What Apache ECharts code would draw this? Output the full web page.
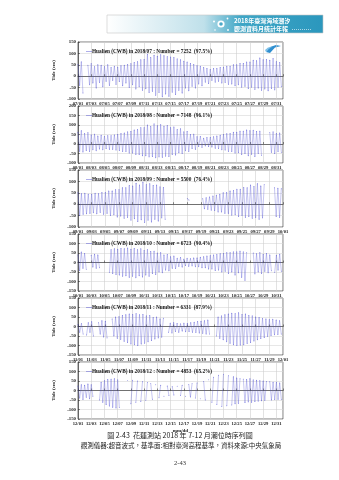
<!DOCTYPE html>
<html><head><meta charset="utf-8">
<script src="https://cdn.jsdelivr.net/npm/echarts@6/dist/echarts.min.js"></script>
<style>html,body{margin:0;padding:0;background:#fff}#c{width:339px;height:480px}</style>
</head><body><div id="c"></div>
<script>
// ---- data (6-hourly readings of high / low water, cm) ----
const monthIndex = [6, 7, 8, 9, 10, 11];           // JS month index (Jul..Dec)
const monthLabels = ['2018/07','2018/08','2018/09','2018/10','2018/11','2018/12'];
const counts = [7252, 7148, 5500, 6723, 6331, 4853];
const percents = ['97.5%','96.1%','76.4%','90.4%','87.9%','65.2%'];
const monthDays = [31, 31, 30, 31, 30, 31];
const yMins = [-100, -100, -100, -150, -150, -150];
const yMaxs = [150, 200, 150, 150, 150, 150];
const samplesPerDay = 4;

const tideJul = [
 52,-40,63,-74, null,null,48,-38, 55,-30,42,-52, 50,-28,48,-46, 42,-22,50,-40,
 38,-18,44,-36, 40,-24,46,-42, 48,-30,52,-50, 55,-38,60,-56, 64,-46,72,-62,
 74,-55,96,-72, 82,-66,92,-84, 88,-72,94,-90, 90,-78,86,-88, 84,-70,82,-80,
 76,-62,72,-74, 66,-52,62,-64, 56,-44,52,-52, 46,-34,44,-42, 38,-26,34,-32,
 30,-18,34,-26, 34,-22,38,-30, 40,-28,44,-36, 44,-34,50,-42, 50,-38,56,-48,
 56,-44,62,-54, 62,-48,70,-58, 68,-52,80,-62, 72,-56,74,-64, 70,-54,78,-60,
 64,-48,60,-46
];
const tideAug = [
 62,-38,70,-42, 55,-35,60,-40, 48,-30,52,-36, 42,-26,46,-30, 40,-24,44,-28,
 44,-28,48,-32, 50,-34,56,-40, 58,-40,64,-48, 66,-48,74,-56, 76,-56,86,-62,
 86,-62,100,-68, 92,-66,106,-72, 96,-68,102,-70, 94,-64,98,-66, 86,-56,90,-58,
 76,-46,80,-50, 64,-36,66,-40, 50,-24,52,-28, 38,-14,40,-18, 30,-10,34,-14,
 34,-16,38,-22, 42,-24,46,-30, 50,-32,54,-40, 56,-40,62,-48, 62,-46,68,-56,
 68,-50,74,-62, 70,-54,72,-66, 66,-50,68,-60, null,null,null,null, 60,-44,64,-50,
 56,-40,58,-44
];
const tideSep = [
 50,-50,46,-44, 48,-42,44,-40, 44,-38,48,-42, 46,-36,52,-44, 52,-40,58,-50,
 58,-46,64,-56, 64,-52,72,-62, 72,-58,82,-70, 80,-64,92,-76, 84,-68,96,-80,
 86,-70,90,-78, 82,-66,84,-74, 76,-60,74,-66, null,null,null,null, null,null,null,null,
 null,null,null,null, 24,18,null,null, null,null,null,null, null,24,-20,28, -22,32,-26,36,
 -28,40,-34,44, -34,50,-40,52, -40,58,-48,60, -46,66,-54,66, -50,74,-58,72,
 -54,84,-62,78, -58,90,-66,80, -60,86,null,null, null,null,null,72, -54,70,-58,68
];
const tideOct = [
 40,-42,55,-30, 48,-36,null,null, 38,-24,44,-30, 40,-28,null,null, null,null,null,-52,
 68,-58,72,-64, 70,-66,74,-72, 72,-70,76,-78, 70,-72,74,-80, 68,-70,72,-76,
 64,-66,68,-72, 58,-58,60,-64, 50,-50,52,-54, 40,-40,42,-44, 30,-30,34,-32,
 22,-20,26,-24, 18,-16,22,-20, 20,-18,24,-22, 24,-22,28,-28, 30,-28,34,-34,
 36,-34,40,-42, 42,-40,46,-50, 48,-46,52,-58, 52,-50,56,-66, 56,-54,60,-78,
 56,-94,52,null, null,null,50,-60, 46,-50,52,-58, 42,-46,48,-54, 40,-44,null,-52,
 38,-40,44,-46
];
const tideNov = [
 10,-30,15,-40, null,-45,20,-30, 25,-50,null,null, 20,-40,30,-55, 28,-60,null,null,
 40,-50,50,-62, 52,-68,58,-78, 62,-84,66,-92, 64,-96,68,-100, 62,-92,64,-88,
 56,-80,58,-74, 48,-66,50,-60, 40,-56,44,null, null,-30,18,-34, 20,-26,16,-30,
 14,-24,18,-28, 16,-26,20,-30, 22,-32,26,-34, 28,-36,30,-40, 34,-40,null,null,
 null,-50,50,-62, 56,-70,62,-80, 66,-88,70,-96, 68,-100,72,-98, 64,-96,66,-90,
 58,-84,56,-76, 50,-70,48,-64, 42,-58,40,-52, 36,-48,38,-44, 34,-42,30,-40
];
const tideDec = [
 24,-40,30,-48, 28,-36,34,-44, 30,-30,null,null, null,-50,44,-62, 52,-74,58,-82,
 60,-88,62,-92, 56,-90,null,null, null,null,52,null, -70,54,null,-62, 50,null,-58,46,
 null,-52,42,null, 36,-46,null,30, null,-38,28,null, -30,null,24,-26, null,20,-24,null,
 22,null,-26,28, null,-30,null,32, -34,36,null,-40, 40,null,-44,null, 48,-50,null,56,
 null,-62,70,null, -74,80,null,-84, 86,null,-80,78, null,-76,72,-70, 66,-68,62,null,
 60,-64,58,-60, 62,-62,56,-58, 54,-56,52,-54, 50,-52,48,null, 46,-50,44,-48,
 42,-46,40,-48
];
const tideSeries = [tideJul, tideAug, tideSep, tideOct, tideNov, tideDec];

// ---- layout ----
const GRID_TOP0 = 42, GRID_STEP = 64, GRID_H = 57, GRID_L = 78, GRID_R = 56;
const LINE_COLOR = '#4a4ad2';
const SERIF = '"Liberation Serif","DejaVu Serif",serif';
const CJK = '"Noto Sans CJK TC","Noto Sans CJK SC",sans-serif';

function pad(n){ return (n < 10 ? '0' : '') + n; }

const grids = [], xAxes = [], yAxes = [], series = [], titles = [];
for (let i = 0; i < 6; i++) {
  const top = GRID_TOP0 + GRID_STEP * i;
  grids.push({ left: GRID_L, right: GRID_R, top: top, height: GRID_H,
    show: true, borderColor: '#222', borderWidth: 0.6, backgroundColor: '#fff' });
  const m = monthIndex[i];
  xAxes.push({
    type: 'value', gridIndex: i, min: 0, max: monthDays[i], interval: 2,
    axisLine: { show: true, lineStyle: { color: '#222', width: 0.6 } },
    axisTick: { show: true, inside: true, length: 2, lineStyle: { color: '#222', width: 0.5 } },
    splitLine: { show: true, lineStyle: { color: '#cfcfcf', width: 0.6 } },
    axisLabel: {
      show: true, margin: 2, fontSize: 4.6, color: '#222', fontFamily: SERIF, fontWeight: 'bold',
      hideOverlap: false,
      formatter: function (v) {
        if (Math.abs(v % 2) > 1e-6) return '';
        const d = new Date(Date.UTC(2018, m, 1) + v * 86400000);
        return pad(d.getUTCMonth() + 1) + '/' + pad(d.getUTCDate());
      }
    },
    name: i === 5 ? 'mm/dd' : '', nameLocation: 'middle', nameGap: 9,
    nameTextStyle: { fontSize: 5, fontFamily: SERIF, fontWeight: 'bold', color: '#222' }
  });
  yAxes.push({
    type: 'value', gridIndex: i, min: yMins[i], max: yMaxs[i], interval: 50,
    axisLine: { show: true, lineStyle: { color: '#222', width: 0.6 } },
    axisTick: { show: true, inside: true, length: 2, lineStyle: { color: '#222', width: 0.5 } },
    splitLine: { show: true, lineStyle: { color: '#d6d6d6', width: 0.6 } },
    axisLabel: { show: true, margin: 2, fontSize: 4.8, color: '#222', fontFamily: SERIF, fontWeight: 'bold' },
    name: 'Tide (cm)', nameLocation: 'middle', nameGap: 12,
    nameTextStyle: { fontSize: 5, fontFamily: SERIF, fontWeight: 'bold', color: '#222' }
  });
  const arr = tideSeries[i];
  series.push({
    type: 'line', xAxisIndex: i, yAxisIndex: i, name: 'Hualien ' + monthLabels[i],
    data: arr.map(function (v, k) { return [k / samplesPerDay, v]; }),
    connectNulls: false, showSymbol: true, symbol: 'circle', symbolSize: 0.9,
    itemStyle: { color: LINE_COLOR, opacity: 0.9 },
    lineStyle: { color: LINE_COLOR, width: 0.35, opacity: 0.9 },
    animation: false, silent: true
  });
  titles.push({
    left: GRID_L + 3, top: top + 1.5,
    text: '{l|—}{t|Hualien (CWB) in ' + monthLabels[i] + ' : Number = ' + counts[i] + '  (' + percents[i] + ')}',
    textStyle: { rich: {
      l: { color: LINE_COLOR, fontSize: 6, fontFamily: SERIF },
      t: { color: '#111', fontSize: 5.3, fontFamily: SERIF, fontWeight: 'bold' }
    } }
  });
}

const graphics = [
  { type: 'rect', shape: { x: 107, y: 15, width: 216, height: 18 },
    style: { fill: new echarts.graphic.LinearGradient(0, 0, 1, 0, [
      { offset: 0, color: '#ffffff' }, { offset: 0.45, color: '#bfe0ea' },
      { offset: 0.62, color: '#3ea6c6' }, { offset: 1, color: '#2b97bd' }]),
      stroke: '#c8c8c8', lineWidth: 0.6 } },
  { type: 'circle', shape: { cx: 221, cy: 24, r: 3.6 }, style: { fill: '#ffffff' } },
  { type: 'circle', shape: { cx: 221, cy: 24, r: 1.8 }, style: { fill: '#4aa9c9' } },
  { type: 'circle', shape: { cx: 214, cy: 21.5, r: 1 }, style: { fill: '#ffffff' } },
  { type: 'circle', shape: { cx: 227.5, cy: 18.5, r: 0.9 }, style: { fill: '#ffffff' } },
  { type: 'circle', shape: { cx: 228, cy: 30, r: 0.9 }, style: { fill: '#ffffff' } },
  { type: 'circle', shape: { cx: 215, cy: 30, r: 0.8 }, style: { fill: '#ffffff' } },
  { type: 'text', x: 234, y: 21, style: { text: '2018年臺灣海域潮汐', fill: '#ffffff',
    font: 'bold 6px ' + CJK, textVerticalAlign: 'middle' } },
  { type: 'text', x: 234, y: 29, style: { text: '觀測資料月統計年報', fill: '#ffffff',
    font: 'bold 6px ' + CJK, textVerticalAlign: 'middle' } },
  { type: 'line', shape: { x1: 292, y1: 29.5, x2: 312, y2: 29.5 },
    style: { stroke: '#ffffff', lineWidth: 0.6, lineDash: [1, 1] } },
  { type: 'polygon', shape: { points: [[266,52],[270,47],[276,45],[281,46],[275,47.5],[270,53]] }, style: { fill: '#2f8fd0' } },
  { type: 'polygon', shape: { points: [[265,50],[268,47.5],[272,47],[268,49.5],[266,52]] }, style: { fill: '#7cc0e8' } },
  { type: 'text', x: 180, y: 435, style: { text: '圖 2-43  花蓮測站 2018 年 7-12 月潮位時序列圖',
    fill: '#222', font: '7px ' + CJK, textAlign: 'center', textVerticalAlign: 'middle' } },
  { type: 'text', x: 181, y: 446, style: { text: '觀測儀器:超音波式，基準面:相對臺灣高程基準，資料來源:中央氣象局',
    fill: '#222', font: '6.5px ' + CJK, textAlign: 'center', textVerticalAlign: 'middle' } },
  { type: 'text', x: 180, y: 463, style: { text: '2-43',
    fill: '#333', font: '6.5px ' + SERIF, textAlign: 'center', textVerticalAlign: 'middle' } }
];

const chart = echarts.init(document.getElementById('c'), null, { renderer: 'canvas' });
chart.setOption({
  backgroundColor: '#ffffff', animation: false,
  title: titles, grid: grids, xAxis: xAxes, yAxis: yAxes, series: series, graphic: graphics
});
</script></body></html>
